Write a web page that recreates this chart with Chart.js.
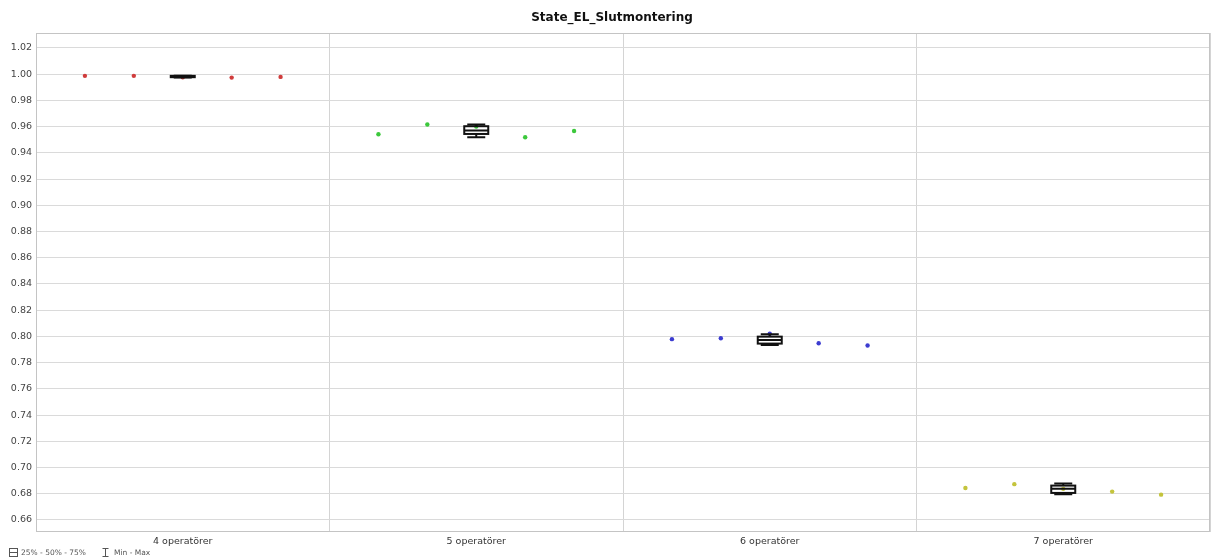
<!DOCTYPE html>
<html>
<head>
<meta charset="utf-8">
<script src="https://cdn.jsdelivr.net/npm/chart.js@4"></script>
<style>
  html, body { margin: 0; padding: 0; background: #fff; }
  #wrap { width: 1211px; height: 560px; }
</style>
</head>
<body>
<div id="wrap"><canvas id="chart" width="1211" height="560"></canvas></div>
<script>
const categories = ['4 operatörer', '5 operatörer', '6 operatörer', '7 operatörer'];
const runs = [1, 2, 3, 4, 5];
const slotsPerCategory = 6;
const yTicks = [0.66, 0.68, 0.70, 0.72, 0.74, 0.76, 0.78, 0.80, 0.82, 0.84, 0.86, 0.88, 0.90, 0.92, 0.94, 0.96, 0.98, 1.00, 1.02];

// one value per run, per category
const ops4 = [0.9987, 0.9987, 0.9977, 0.9974, 0.9979];
const ops5 = [0.9542, 0.9616, 0.9600, 0.9519, 0.9567];
const ops6 = [0.7979, 0.7986, 0.8021, 0.7948, 0.7930];
const ops7 = [0.6844, 0.6873, 0.6837, 0.6816, 0.6793];

// box plot per category (min / 25% / 50% / 75% / max)
const boxMin = [0.9974, 0.9519, 0.7935, 0.6796];
const boxQ1 = [0.9977, 0.9544, 0.7945, 0.6806];
const boxMedian = [0.9979, 0.9571, 0.7973, 0.6837];
const boxQ3 = [0.9987, 0.9603, 0.7998, 0.6862];
const boxMax = [0.9987, 0.9616, 0.8017, 0.6877];

const series = [ops4, ops5, ops6, ops7];
const colors = ['#d03c3c', '#3cc83c', '#3c3cd0', '#c4c43c'];

const datasets = series.map((vals, c) => ({
    label: categories[c],
    data: vals.map((v, i) => ({ x: c * slotsPerCategory + runs[i], y: v })),
    backgroundColor: colors[c],
    borderColor: colors[c],
    borderWidth: 0,
    pointRadius: 2.2,
    pointStyle: 'circle',
}));

const boxPlugin = {
    id: 'boxes',
    afterLayout(chart) {
        // title sits a bit right of the canvas centre in the original
        chart.titleBlock.left = 14;
    },
    beforeDatasetsDraw(chart) {
        const { ctx, chartArea: a } = chart;
        ctx.save();
        ctx.strokeStyle = '#c4c4c4';
        ctx.lineWidth = 1;
        ctx.strokeRect(a.left + 0.5, a.top + 0.5, a.right - a.left - 1, a.bottom - a.top - 1);
        ctx.restore();
    },
    afterDatasetsDraw(chart) {
        const { ctx } = chart;
        const xs = chart.scales.x, ys = chart.scales.y;
        ctx.save();
        ctx.strokeStyle = '#111';
        ctx.lineWidth = 2;
        categories.forEach((cat, c) => {
            const cx = xs.getPixelForValue(c * slotsPerCategory + 3);
            const yMin = ys.getPixelForValue(boxMin[c]);
            const yQ1 = ys.getPixelForValue(boxQ1[c]);
            const yMed = ys.getPixelForValue(boxMedian[c]);
            const yQ3 = ys.getPixelForValue(boxQ3[c]);
            const yMax = ys.getPixelForValue(boxMax[c]);
            const hw = 12, cw = 9;
            ctx.beginPath();
            ctx.moveTo(cx, yQ3); ctx.lineTo(cx, yMax);
            ctx.moveTo(cx - cw, yMax); ctx.lineTo(cx + cw, yMax);
            ctx.moveTo(cx, yQ1); ctx.lineTo(cx, yMin);
            ctx.moveTo(cx - cw, yMin); ctx.lineTo(cx + cw, yMin);
            ctx.moveTo(cx - hw, yMed); ctx.lineTo(cx + hw, yMed);
            ctx.stroke();
            ctx.strokeRect(cx - hw, yQ3, hw * 2, yQ1 - yQ3);
        });
        ctx.restore();
    },
    afterDraw(chart) {
        const { ctx } = chart;
        const y = 553;
        ctx.save();
        ctx.strokeStyle = '#555';
        ctx.lineWidth = 1;
        // box icon
        ctx.strokeRect(9.5, y - 4.5, 8, 8);
        ctx.beginPath();
        ctx.moveTo(9.5, y - 0.5); ctx.lineTo(17.5, y - 0.5);
        // min-max icon
        ctx.moveTo(102.5, y - 4.5); ctx.lineTo(108.5, y - 4.5);
        ctx.moveTo(105.5, y - 4.5); ctx.lineTo(105.5, y + 3.5);
        ctx.moveTo(102.5, y + 3.5); ctx.lineTo(108.5, y + 3.5);
        ctx.stroke();
        ctx.fillStyle = '#555';
        ctx.font = '7.5px "DejaVu Sans"';
        ctx.textBaseline = 'middle';
        ctx.fillText('25% - 50% - 75%', 21, y);
        ctx.fillText('Min - Max', 114, y);
        ctx.restore();
    }
};

new Chart(document.getElementById('chart'), {
    type: 'scatter',
    data: { datasets: datasets },
    options: {
        responsive: false,
        animation: false,
        layout: { autoPadding: false, padding: { left: 0, right: 1, top: 0, bottom: 14 } },
        plugins: {
            legend: { display: false },
            tooltip: { enabled: false },
            title: {
                display: true,
                text: 'State_EL_Slutmontering',
                color: '#111',
                font: { family: 'DejaVu Sans', size: 12, weight: 'bold', lineHeight: 1.2 },
                padding: { top: 11, bottom: 7.6 },
            },
        },
        scales: {
            x: {
                type: 'linear',
                min: 0,
                max: categories.length * slotsPerCategory,
                afterFit(scale) {
                    scale.height = 14;
                    scale.paddingLeft = 0;
                    scale.paddingRight = 0;
                },
                afterBuildTicks(scale) {
                    const t = [];
                    for (let v = 0; v <= categories.length * slotsPerCategory; v += 3) t.push({ value: v });
                    scale.ticks = t;
                },
                border: { display: false },
                grid: {
                    drawTicks: false,
                    color: ctx => (ctx.tick && ctx.tick.value % slotsPerCategory === 0) ? '#d4d4d4' : 'rgba(0,0,0,0)',
                },
                ticks: {
                    autoSkip: false,
                    maxRotation: 0,
                    padding: 4,
                    color: '#333',
                    font: { family: 'DejaVu Sans', size: 9.5 },
                    callback: v => (v % slotsPerCategory === 3) ? categories[(v - 3) / slotsPerCategory] : '',
                },
            },
            y: {
                min: 0.6508,
                max: 1.0314,
                afterFit(scale) { scale.width = 36; },
                afterBuildTicks(scale) { scale.ticks = yTicks.map(v => ({ value: v })); },
                border: { display: false },
                grid: { drawTicks: false, color: '#dadada' },
                ticks: {
                    padding: 4,
                    color: '#444',
                    font: { family: 'DejaVu Sans', size: 9.5 },
                    callback: v => v.toFixed(2),
                },
            },
        },
    },
    plugins: [boxPlugin],
});
</script>
</body>
</html>
